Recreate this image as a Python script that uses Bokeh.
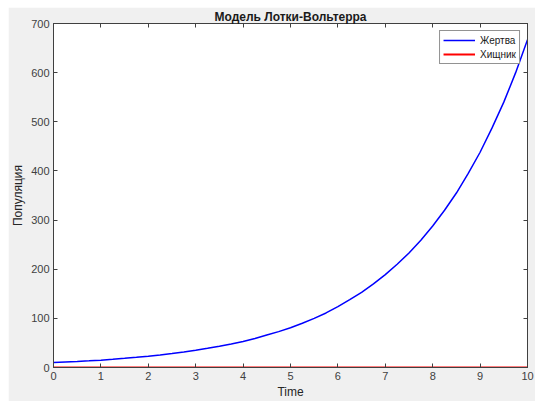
from bokeh.plotting import figure
from bokeh.models import Range1d, LinearAxis, FixedTicker, Legend, LegendItem
from bokeh.embed import file_html
from bokeh.resources import INLINE

# data
time = [0, 0.25, 0.5, 0.75, 1, 1.25, 1.5, 1.75, 2, 2.25, 2.5, 2.75, 3, 3.25, 3.5, 3.75,
        4, 4.25, 4.5, 4.75, 5, 5.25, 5.5, 5.75, 6, 6.25, 6.5, 6.75, 7, 7.25, 7.5, 7.75,
        8, 8.25, 8.5, 8.75, 9, 9.25, 9.5, 9.75, 10]
prey = [10, 11.1, 12.3, 13.6, 15, 16.8, 18.7, 20.7, 23, 25.6, 28.5, 31.6, 35, 39, 43.4, 48,
        53, 59, 66, 73, 81, 90, 100, 111, 124, 138, 153, 170, 189, 210, 233, 259,
        288, 320, 355, 395, 438, 487, 540, 600, 667]
predator = [0] * len(time)
x_ticks = [0, 1, 2, 3, 4, 5, 6, 7, 8, 9, 10]
y_ticks = [0, 100, 200, 300, 400, 500, 600, 700]

FONT = "Liberation Sans"
AX = "#404040"

p = figure(width=527, height=394, output_backend="svg", toolbar_location=None,
           x_range=Range1d(0, 10), y_range=Range1d(0, 700),
           min_border_left=40, min_border_right=8, min_border_top=14, min_border_bottom=33,
           margin=(7, 0, 0, 8))
p.background_fill_color = "white"
p.border_fill_color = "#f0f0f0"
p.outline_line_color = AX
p.xgrid.visible = False
p.ygrid.visible = False

p.title.text = "Модель Лотки-Вольтерра"
p.title.text_font = FONT
p.title.text_font_size = "12px"
p.title.text_font_style = "bold"
p.title.align = "center"
p.title.text_color = "#1a1a1a"
p.title.offset = 0
p.title.standoff = 0

for ax in (p.xaxis[0], p.yaxis[0]):
    ax.major_tick_in = 4
    ax.major_tick_out = 0
    ax.minor_tick_in = 0
    ax.minor_tick_out = 0
    ax.axis_line_color = AX
    ax.major_tick_line_color = AX
    ax.major_label_text_color = AX
    ax.major_label_text_font = FONT
    ax.major_label_text_font_size = "11px"
    ax.axis_label_text_font = FONT
    ax.axis_label_text_font_size = "12px"
    ax.axis_label_text_font_style = "normal"
    ax.axis_label_text_color = "#262626"

p.xaxis[0].ticker = FixedTicker(ticks=x_ticks)
p.yaxis[0].ticker = FixedTicker(ticks=y_ticks)
p.xaxis[0].axis_label = "Time"
p.yaxis[0].axis_label = "Популяция"
p.xaxis[0].major_label_standoff = 4
p.xaxis[0].axis_label_standoff = 2
p.yaxis[0].major_label_standoff = 4
p.yaxis[0].axis_label_standoff = 3

top = LinearAxis(ticker=FixedTicker(ticks=x_ticks),
                 major_label_overrides={t: "" for t in x_ticks},
                 major_tick_in=4, major_tick_out=0, minor_tick_in=0, minor_tick_out=0,
                 axis_line_color=AX, major_tick_line_color=AX, major_label_standoff=0)
right = LinearAxis(ticker=FixedTicker(ticks=y_ticks),
                   major_label_overrides={t: "" for t in y_ticks},
                   major_tick_in=4, major_tick_out=0, minor_tick_in=0, minor_tick_out=0,
                   axis_line_color=AX, major_tick_line_color=AX, major_label_standoff=0)
p.add_layout(top, "above")
p.add_layout(right, "right")

r1 = p.line(time, prey, line_color="#0000ff", line_width=1.5)
r2 = p.line(time, predator, line_color="#ff0000", line_width=2)

legend = Legend(items=[LegendItem(label="Жертва", renderers=[r1]),
                       LegendItem(label="Хищник", renderers=[r2])],
                location="top_right")
legend.label_text_font = FONT
legend.label_text_font_size = "10px"
legend.label_text_color = "#1a1a1a"
legend.glyph_width = 32
legend.glyph_height = 12
legend.label_height = 12
legend.spacing = 2
legend.padding = 3
legend.margin = 7
legend.border_line_color = "#262626"
legend.background_fill_color = "white"
legend.background_fill_alpha = 1
p.add_layout(legend)

open("out.html", "w").write(file_html(p, INLINE))
